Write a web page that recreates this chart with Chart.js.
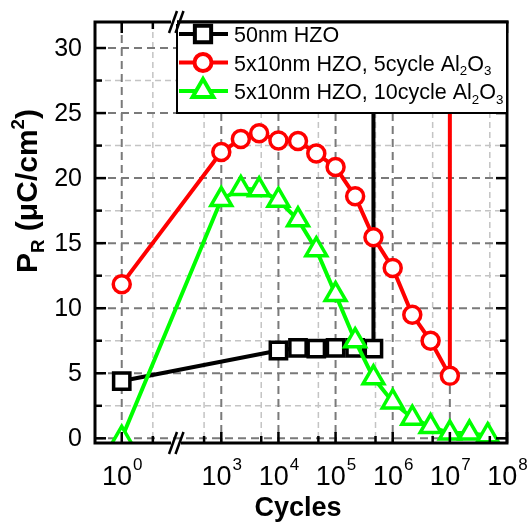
<!DOCTYPE html>
<html>
<head>
<meta charset="utf-8">
<script src="https://cdn.jsdelivr.net/npm/chart.js@4/dist/chart.umd.min.js"></script>
<style>
  html, body { margin: 0; padding: 0; background: #fff; }
  #wrap { width: 527px; height: 523px; }
</style>
</head>
<body>
<div id="wrap"><canvas id="c" width="527" height="523"></canvas></div>
<script>
// ---- data -----------------------------------------------------------------
// Remanent polarization P_R (uC/cm^2) versus number of field cycles.
// A value above the axis range marks the breakdown (off-scale) point.
const cycles50 = [1, 1e4, 2.2e4, 4.6e4, 1e5, 2.2e5, 4.6e5, 4.6e5];
const pr50     = [4.4, 6.75, 6.95, 6.9, 6.95, 6.95, 6.9, 60];

const cycles5  = [1, 1e3, 2.2e3, 4.6e3, 1e4, 2.2e4, 4.6e4, 1e5, 2.2e5, 4.6e5, 1e6, 2.2e6, 4.6e6, 1e7, 1e7];
const pr5      = [11.85, 22.0, 23.0, 23.45, 22.9, 22.85, 21.9, 20.85, 18.6, 15.45, 13.1, 9.5, 7.5, 4.8, 60];

const cycles10 = [1, 1e3, 2.2e3, 4.6e3, 1e4, 2.2e4, 4.6e4, 1e5, 2.2e5, 4.6e5, 1e6, 2.2e6, 4.6e6, 1e7, 2.2e7, 4.6e7];
const pr10     = [0, 18.35, 19.2, 19.1, 18.3, 16.8, 14.5, 11.05, 7.5, 4.65, 2.8, 1.55, 0.9, 0.4, 0.4, 0.2];

// axis ticks
const xMajorExp    = [0, 3, 4, 5, 6, 7, 8];
const xMinorCycles = [3.5, 5e2, 5e3, 5e4, 5e5, 5e6, 5e7];
const yMajor       = [0, 5, 10, 15, 20, 25, 30];
const yMinor       = [2.5, 7.5, 12.5, 17.5, 22.5, 27.5];

// legend entries: [text, 'sub' | ''] segments
const legendLabels = [
  [['50nm HZO', '']],
  [['5x10nm HZO, 5cycle Al', ''], ['2', 'sub'], ['O', ''], ['3', 'sub']],
  [['5x10nm HZO, 10cycle Al', ''], ['2', 'sub'], ['O', ''], ['3', 'sub']]
];

// ---- axis mapping ---------------------------------------------------------
// Log axis with a break: decades between 10^1 and 10^3 are partly cut out.
const BREAK_SHIFT = 1.258;
const axisPos = c => { const l = Math.log10(c); return l > 2 ? l - BREAK_SHIFT : l; };
const X_MIN = -0.468, X_MAX = 8 - BREAK_SHIFT;
const Y_MIN = -0.36, Y_MAX = 32;

const toPoints = (cs, vs) => cs.map((c, i) => ({ x: axisPos(c), y: vs[i] }));
const radiusFor = r => ctx => (ctx.raw && ctx.raw.y > Y_MAX ? 0 : r);

const FONT = '"Liberation Sans", Arial, Helvetica, sans-serif';

const series = [
  { label: '50nm HZO', data: toPoints(cycles50, pr50), color: '#000000', style: 'rect', r: 11.5, order: 2 },
  { label: '5x10nm HZO, 5cycle Al2O3', data: toPoints(cycles5, pr5), color: '#ff0000', style: 'circle', r: 8.5, order: 1 },
  { label: '5x10nm HZO, 10cycle Al2O3', data: toPoints(cycles10, pr10), color: '#00ff00', style: 'triangle', r: 12, order: 0 }
];

// ---- decorations: grid, frame, ticks, labels, legend -----------------------
function drawSegments(ctx, segs, x, baseY, size, bold) {
  let cx = x;
  for (const [t, kind] of segs) {
    const s = kind ? size * 0.62 : size;
    ctx.font = (bold ? 'bold ' : '') + s + 'px ' + FONT;
    const dy = kind === 'sub' ? size * 0.22 : kind === 'sup' ? -size * 0.42 : 0;
    ctx.fillText(t, cx, baseY + dy);
    cx += ctx.measureText(t).width;
  }
  return cx - x;
}
function measureSegments(ctx, segs, size, bold) {
  let w = 0;
  for (const [t, kind] of segs) {
    const s = kind ? size * 0.62 : size;
    ctx.font = (bold ? 'bold ' : '') + s + 'px ' + FONT;
    w += ctx.measureText(t).width;
  }
  return w;
}

const decor = {
  id: 'decor',
  beforeDatasetsDraw(chart) {
    const { ctx, chartArea: a, scales: { x, y } } = chart;
    ctx.save();
    ctx.beginPath(); ctx.rect(a.left, a.top, a.right - a.left, a.bottom - a.top); ctx.clip();
    const vline = px => { ctx.beginPath(); ctx.moveTo(px, a.top); ctx.lineTo(px, a.bottom); ctx.stroke(); };
    const hline = py => { ctx.beginPath(); ctx.moveTo(a.left, py); ctx.lineTo(a.right, py); ctx.stroke(); };
    // minor grid
    ctx.strokeStyle = '#c4c4c4'; ctx.lineWidth = 1.5; ctx.setLineDash([6, 4]);
    xMinorCycles.forEach(c => vline(x.getPixelForValue(axisPos(c))));
    yMinor.forEach(v => hline(y.getPixelForValue(v)));
    // major grid
    ctx.strokeStyle = '#7a7a7a'; ctx.lineWidth = 2; ctx.setLineDash([8, 5]);
    xMajorExp.forEach(e => vline(x.getPixelForValue(axisPos(Math.pow(10, e)))));
    yMajor.forEach(v => hline(y.getPixelForValue(v)));
    ctx.restore();
  },
  afterDatasetsDraw(chart) {
    const { ctx, chartArea: a, scales: { x, y } } = chart;
    ctx.save();
    ctx.setLineDash([]);
    ctx.strokeStyle = '#000'; ctx.fillStyle = '#000';
    // frame
    ctx.lineWidth = 3;
    ctx.strokeRect(a.left, a.top, a.right - a.left, a.bottom - a.top);
    // ticks (inward on all four sides)
    ctx.lineWidth = 2.5;
    const tick = (x1, y1, x2, y2) => { ctx.beginPath(); ctx.moveTo(x1, y1); ctx.lineTo(x2, y2); ctx.stroke(); };
    const xt = (c, len) => {
      const px = x.getPixelForValue(axisPos(c));
      tick(px, a.bottom, px, a.bottom - len);
      tick(px, a.top, px, a.top + len);
    };
    xMajorExp.forEach(e => xt(Math.pow(10, e), 11));
    xMinorCycles.forEach(c => xt(c, 7));
    const yt = (v, len) => {
      const py = y.getPixelForValue(v);
      tick(a.left, py, a.left + len, py);
      tick(a.right, py, a.right - len, py);
    };
    yMajor.forEach(v => yt(v, 11));
    yMinor.forEach(v => yt(v, 7));

    // y tick labels
    ctx.font = '25px ' + FONT;
    ctx.textAlign = 'right'; ctx.textBaseline = 'middle';
    yMajor.forEach(v => ctx.fillText(String(v), a.left - 13, y.getPixelForValue(v) + 1));

    // x tick labels 10^n
    ctx.textAlign = 'left'; ctx.textBaseline = 'alphabetic';
    xMajorExp.forEach(e => {
      const px = x.getPixelForValue(axisPos(Math.pow(10, e)));
      ctx.font = '27px ' + FONT;
      const wb = ctx.measureText('10').width;
      ctx.font = '17px ' + FONT;
      const we = ctx.measureText(String(e)).width;
      const x0 = px - (wb + we) / 2;
      ctx.font = '27px ' + FONT;
      ctx.fillText('10', x0, 485);
      ctx.font = '17px ' + FONT;
      ctx.fillText(String(e), x0 + wb + 1, 470);
    });

    // axis titles
    ctx.font = 'bold 27px ' + FONT;
    ctx.textAlign = 'center';
    ctx.fillText('Cycles', 298, 516);

    ctx.textAlign = 'left';
    const ySegs = [['P', ''], ['R', 'sub'], [' (\u03bcC/cm', ''], ['2', 'sup'], [')', '']];
    const tw = measureSegments(ctx, ySegs, 30, true);
    ctx.save();
    ctx.translate(37, 191);
    ctx.rotate(-Math.PI / 2);
    drawSegments(ctx, ySegs, -tw / 2, 0, 30, true);
    ctx.restore();

    // legend box
    const lx = 177, ly = a.top, lw = a.right - 177, lh = 113 - a.top;
    ctx.fillStyle = '#fff';
    ctx.fillRect(lx, ly, lw, lh);
    ctx.strokeStyle = '#000'; ctx.lineWidth = 2;
    ctx.strokeRect(lx, ly, lw, lh);
    ctx.lineWidth = 3;
    ctx.strokeRect(lx, a.top, lw, 0.01);
    const rows = [34, 62.5, 91];
    series.forEach((s, i) => {
      const ry = rows[i];
      ctx.strokeStyle = s.color; ctx.lineWidth = 4;
      ctx.beginPath(); ctx.moveTo(lx + 2, ry); ctx.lineTo(lx + 51, ry); ctx.stroke();
      ctx.fillStyle = '#fff';
      Chart.helpers.drawPoint(ctx, { pointStyle: s.style, radius: s.r, borderWidth: 3.5, rotation: 0 }, lx + 26, ry);
      ctx.lineWidth = 3.5; ctx.strokeStyle = s.color;
      ctx.fillStyle = '#000';
      ctx.textBaseline = 'alphabetic';
      drawSegments(ctx, legendLabels[i], lx + 57, ry + 8, 21.5, false);
    });

    // axis break marks
    ctx.fillStyle = '#fff';
    ctx.fillRect(171, a.bottom - 2, 10, 4);
    ctx.fillRect(171, a.top - 2, 6, 4);
    ctx.strokeStyle = '#000'; ctx.lineWidth = 2.5;
    const slash = (xc, yc) => { ctx.beginPath(); ctx.moveTo(xc - 4, yc + 11); ctx.lineTo(xc + 4, yc - 11); ctx.stroke(); };
    [a.top, a.bottom].forEach(yc => { slash(173, yc); slash(179.5, yc); });
    ctx.restore();
  }
};

new Chart(document.getElementById('c'), {
  type: 'line',
  data: {
    datasets: series.map(s => ({
      label: s.label,
      data: s.data,
      order: s.order,
      borderColor: s.color,
      borderWidth: 4,
      tension: 0,
      pointStyle: s.style,
      pointRadius: radiusFor(s.r),
      pointHoverRadius: radiusFor(s.r),
      pointBorderWidth: 3.5,
      pointBorderColor: s.color,
      pointBackgroundColor: '#ffffff'
    }))
  },
  options: {
    responsive: false,
    animation: false,
    devicePixelRatio: 1,
    layout: { padding: { left: 95, right: 20, top: 22, bottom: 80 } },
    scales: {
      x: { type: 'linear', display: false, min: X_MIN, max: X_MAX },
      y: { type: 'linear', display: false, min: Y_MIN, max: Y_MAX }
    },
    plugins: { legend: { display: false }, tooltip: { enabled: false } }
  },
  plugins: [decor]
});
</script>
</body>
</html>
